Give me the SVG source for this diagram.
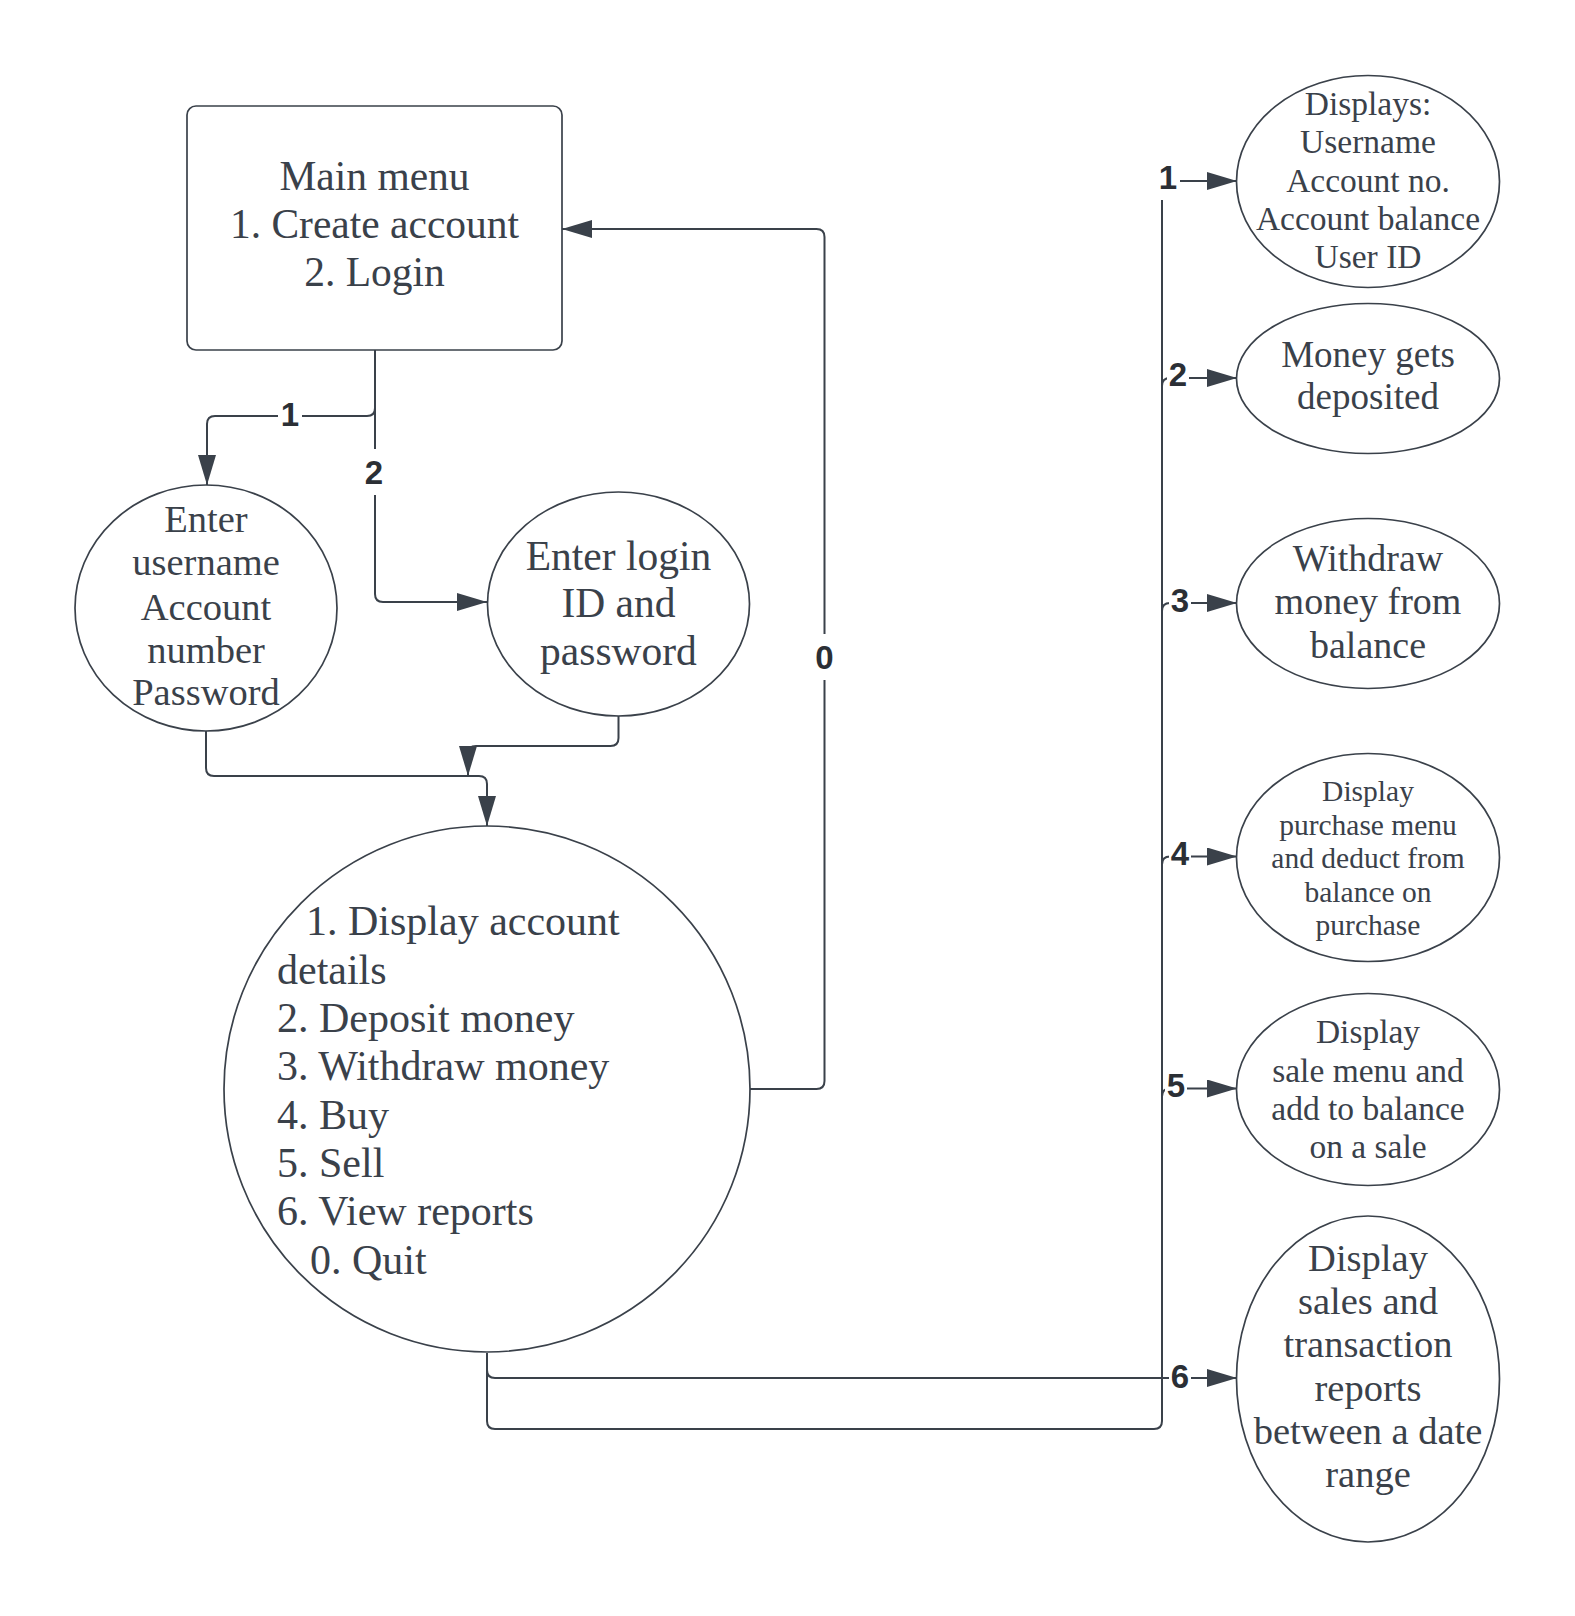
<svg xmlns="http://www.w3.org/2000/svg" width="1575" height="1616" viewBox="0 0 1575 1616">
  <defs>
    <marker id="arrow" markerUnits="userSpaceOnUse" markerWidth="30" markerHeight="18" refX="30" refY="9" orient="auto">
      <path d="M0,0 L30,9 L0,18 Z" fill="#3a414a"/>
    </marker>
  </defs>
  <style>
    .shape{fill:#fff;stroke:#3a414a;stroke-width:1.7}
    .node text{font-family:"Liberation Serif","Times New Roman",serif;fill:#3a414a;text-anchor:middle}
    .node text.left{text-anchor:start}
    .wire{fill:none;stroke:#3a414a;stroke-width:2}
    .arrowed{marker-end:url(#arrow)}
    .tag{font-family:"Liberation Sans",Arial,sans-serif;font-weight:bold;font-size:33px;fill:#2b2f35;text-anchor:middle}
    .gap{fill:#fff}
  </style>
  <rect width="1575" height="1616" fill="#fff"/>

  <!-- connectors -->
  <g id="connectors">
    <path class="wire arrowed" d="M375,350 V408 Q375,416 367,416 H215 Q207,416 207,424 V485"/>
    <path class="wire arrowed" d="M375,350 V594 Q375,602 383,602 H487"/>
    <path class="wire arrowed" d="M206,731 V768 Q206,776 214,776 H479 Q487,776 487,784 V826"/>
    <path class="wire arrowed" d="M618.5,716 V738 Q618.5,746 610.5,746 H476 Q468,746 468,754 V776"/>
    <path class="wire arrowed" d="M750,1089 H816.5 Q824.5,1089 824.5,1081 V237 Q824.5,229 816.5,229 H562"/>
    <path class="wire" d="M487,1353 V1421 Q487,1429 495,1429 H1154 Q1162,1429 1162,1421 V189"/>
    <path class="wire arrowed" d="M1162,189 Q1162,181 1170,181 H1237"/>
    <path class="wire arrowed" d="M1162,386 Q1162,378 1170,378 H1237"/>
    <path class="wire arrowed" d="M1162,611 Q1162,603 1170,603 H1237"/>
    <path class="wire arrowed" d="M1162,864.5 Q1162,856.5 1170,856.5 H1237"/>
    <path class="wire arrowed" d="M1162,1096.5 Q1162,1088.5 1170,1088.5 H1237"/>
    <path class="wire arrowed" d="M487,1353 V1370 Q487,1378 495,1378 H1237"/>

    <!-- label backings -->
    <rect class="gap" x="278" y="392" width="24" height="46"/>
    <rect class="gap" x="362" y="449" width="24" height="46"/>
    <rect class="gap" x="812.5" y="634" width="24" height="46"/>
    <rect class="gap" x="1155" y="156" width="25" height="44"/>
    <rect class="gap" x="1167" y="354" width="22" height="40"/>
    <rect class="gap" x="1169" y="580" width="22" height="40"/>
    <rect class="gap" x="1169" y="833" width="22" height="40"/>
    <rect class="gap" x="1165" y="1065" width="22" height="40"/>
    <rect class="gap" x="1169" y="1355" width="22" height="40"/>

    <text class="tag" x="290" y="426">1</text>
    <text class="tag" x="374" y="484">2</text>
    <text class="tag" x="824.5" y="669">0</text>
    <text class="tag" x="1168" y="189">1</text>
    <text class="tag" x="1178" y="386">2</text>
    <text class="tag" x="1180" y="612">3</text>
    <text class="tag" x="1180" y="865">4</text>
    <text class="tag" x="1176" y="1097">5</text>
    <text class="tag" x="1180" y="1388">6</text>
  </g>

  <!-- main menu -->
  <g id="main-menu" class="node">
    <rect class="shape" x="187" y="106" width="375" height="244" rx="9"/>
    <text x="374.5" y="190" font-size="41.5">Main menu</text>
    <text x="374.5" y="238" font-size="41.5">1. Create account</text>
    <text x="374.5" y="286" font-size="41.5">2. Login</text>
  </g>

  <!-- create account -->
  <g id="create-account" class="node">
    <ellipse class="shape" cx="206" cy="608" rx="131" ry="123"/>
    <text x="206" y="532" font-size="38.5">Enter</text>
    <text x="206" y="575" font-size="38.5">username</text>
    <text x="206" y="620" font-size="38.5">Account</text>
    <text x="206" y="663" font-size="38.5">number</text>
    <text x="206" y="705" font-size="38.5">Password</text>
  </g>

  <!-- login -->
  <g id="login" class="node">
    <ellipse class="shape" cx="618.5" cy="604" rx="131" ry="112"/>
    <text x="618.5" y="570" font-size="41.5">Enter login</text>
    <text x="618.5" y="617" font-size="41.5">ID and</text>
    <text x="618.5" y="665" font-size="41.5">password</text>
  </g>

  <!-- account menu -->
  <g id="account-menu" class="node">
    <circle class="shape" cx="487" cy="1089" r="263"/>
    <text class="left" x="306" y="935" font-size="42">1. Display account</text>
    <text class="left" x="277" y="983.5" font-size="42">details</text>
    <text class="left" x="277" y="1032" font-size="42">2. Deposit money</text>
    <text class="left" x="277" y="1080" font-size="42">3. Withdraw money</text>
    <text class="left" x="277" y="1128.5" font-size="42">4. Buy</text>
    <text class="left" x="277" y="1177" font-size="42">5. Sell</text>
    <text class="left" x="277" y="1225" font-size="42">6. View reports</text>
    <text class="left" x="310" y="1273.5" font-size="42">0. Quit</text>
  </g>

  <!-- option results -->
  <g id="show-details" class="node">
    <ellipse class="shape" cx="1368" cy="181.5" rx="131.5" ry="106"/>
    <text x="1368" y="114.5" font-size="33.5">Displays:</text>
    <text x="1368" y="153" font-size="33.5">Username</text>
    <text x="1368" y="192" font-size="33.5">Account no.</text>
    <text x="1368" y="230" font-size="33.5">Account balance</text>
    <text x="1368" y="268" font-size="33.5">User ID</text>
  </g>

  <g id="deposit" class="node">
    <ellipse class="shape" cx="1368" cy="378.5" rx="131.5" ry="75"/>
    <text x="1368" y="367" font-size="37">Money gets</text>
    <text x="1368" y="408.5" font-size="37">deposited</text>
  </g>

  <g id="withdraw" class="node">
    <ellipse class="shape" cx="1368" cy="603.5" rx="131.5" ry="85"/>
    <text x="1368" y="570.5" font-size="38">Withdraw</text>
    <text x="1368" y="614" font-size="38">money from</text>
    <text x="1368" y="657.5" font-size="38">balance</text>
  </g>

  <g id="buy" class="node">
    <ellipse class="shape" cx="1368" cy="857.5" rx="131.5" ry="104"/>
    <text x="1368" y="801" font-size="29.5">Display</text>
    <text x="1368" y="835" font-size="29.5">purchase menu</text>
    <text x="1368" y="868" font-size="29.5">and deduct from</text>
    <text x="1368" y="902" font-size="29.5">balance on</text>
    <text x="1368" y="935" font-size="29.5">purchase</text>
  </g>

  <g id="sell" class="node">
    <ellipse class="shape" cx="1368" cy="1089.5" rx="131.5" ry="96"/>
    <text x="1368" y="1042.5" font-size="33.5">Display</text>
    <text x="1368" y="1081.5" font-size="33.5">sale menu and</text>
    <text x="1368" y="1119.5" font-size="33.5">add to balance</text>
    <text x="1368" y="1158" font-size="33.5">on a sale</text>
  </g>

  <g id="reports" class="node">
    <ellipse class="shape" cx="1368" cy="1379" rx="131.5" ry="163"/>
    <text x="1368" y="1270.5" font-size="38.5">Display</text>
    <text x="1368" y="1314" font-size="38.5">sales and</text>
    <text x="1368" y="1357" font-size="38.5">transaction</text>
    <text x="1368" y="1400.5" font-size="38.5">reports</text>
    <text x="1368" y="1444" font-size="38.5">between a date</text>
    <text x="1368" y="1487" font-size="38.5">range</text>
  </g>
</svg>
